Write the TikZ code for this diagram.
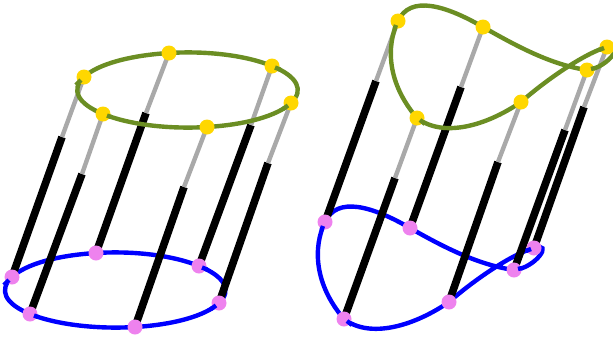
\documentclass[tikz,border=0pt]{standalone}
\usetikzlibrary{calc}
\pgfdeclarelayer{lblue}
\pgfdeclarelayer{lbars}
\pgfdeclarelayer{lgreen}
\pgfdeclarelayer{ltop}
\pgfsetlayers{lblue,lbars,lgreen,main,ltop}
\definecolor{olivec}{HTML}{6B8E23}
\definecolor{goldc}{HTML}{FFD700}
\definecolor{violetc}{HTML}{EE82EE}
\definecolor{grayc}{HTML}{A9A9A9}
\tikzset{
  golddot/.style={circle,fill=goldc,inner sep=0pt,minimum size=15pt},
  violetdot/.style={circle,fill=violetc,inner sep=0pt,minimum size=15pt},
  greencurve/.style={draw=olivec,line width=4.4pt},
  bluecurve/.style={draw=blue,line width=4.4pt},
  greybar/.style={draw=grayc,line width=4.4pt},
  blackbar/.style={draw=black,line width=7.6pt}
}
\newcommand{\ringpath}[6]{%
  (#1.center) .. controls +(13.6,-12.8) and +(-39.06,2.36) .. (#2.center)
  .. controls +(39.06,-2.36) and +(-25.5,-10.4) .. (#3.center)
  .. controls +(25.5,10.4) and +(13.6,-12.8) .. (#4.center)
  .. controls +(-13.6,12.8) and +(39.06,-2.36) .. (#5.center)
  .. controls +(-39.06,2.36) and +(25.5,10.4) .. (#6.center)
  .. controls +(-25.5,-10.4) and +(-13.6,12.8) .. (#1.center) -- cycle}
\newcommand{\loopath}[6]{%
  (#1.center) .. controls +(12,-26) and +(-38,-22) .. (#2.center)
  .. controls +(35,20) and +(-35,-5) .. (#4.center)
  .. controls +(22,-2) and +(20,-7) .. (#3.center)
  .. controls +(-22,6) and +(25,-22) .. (#5.center)
  .. controls +(-35,24) and +(26,20) .. (#6.center)
  .. controls +(-30,-35) and +(-12,25) .. (#1.center) -- cycle}
\begin{document}
\begin{tikzpicture}[x=1pt,y=-1pt]
\useasboundingbox (0,0) rectangle (613,338);
% upper dots, left ring
\node[golddot] (tA) at (84,77) {};
\node[golddot] (tB) at (169,53) {};
\node[golddot] (tC) at (272,66) {};
\node[golddot] (tD) at (291,103) {};
\node[golddot] (tE) at (207,127) {};
\node[golddot] (tF) at (103,114) {};
% lower dots, left ring
\node[violetdot] (bA) at (12,277) {};
\node[violetdot] (bB) at (96,253) {};
\node[violetdot] (bC) at (199,266) {};
\node[violetdot] (bD) at (219,303) {};
\node[violetdot] (bE) at (135,327) {};
\node[violetdot] (bF) at (30,314) {};
% upper dots, right loop
\node[golddot] (uA) at (398,21) {};
\node[golddot] (uB) at (483,27) {};
\node[golddot] (uC) at (607,47) {};
\node[golddot] (uD) at (587,70) {};
\node[golddot] (uE) at (521,102) {};
\node[golddot] (uF) at (417,118) {};
% lower dots, right loop
\node[violetdot] (vA) at (325,222) {};
\node[violetdot] (vB) at (410,228) {};
\node[violetdot] (vC) at (534,248) {};
\node[violetdot] (vD) at (514,270) {};
\node[violetdot] (vE) at (449,302) {};
\node[violetdot] (vF) at (344,319) {};
% colour changes along the bars
\coordinate (mtA) at (62,137);
\coordinate (mtB) at (146,113);
\coordinate (mtC) at (251,125);
\coordinate (mtD) at (268,163);
\coordinate (mtE) at (184,187);
\coordinate (mtF) at (82,174);
\coordinate (muA) at (376,81);
\coordinate (muB) at (461,87);
\coordinate (muC) at (584,107);
\coordinate (muD) at (565,130);
\coordinate (muE) at (498,162);
\coordinate (muF) at (395,178);
\begin{pgfonlayer}{lblue}
  \draw[bluecurve] \ringpath{bA}{bB}{bC}{bD}{bE}{bF};
  \draw[bluecurve] \loopath{vA}{vB}{vC}{vD}{vE}{vF};
\end{pgfonlayer}
\begin{pgfonlayer}{lbars}
  \foreach \n in {A,B,C,D,E,F}{
    \draw[blackbar] (b\n.center) -- (mt\n);
    \draw[greybar] (t\n.center) -- (mt\n);
    \draw[blackbar] (v\n.center) -- (mu\n);
    \draw[greybar] (u\n.center) -- (mu\n);
  }
\end{pgfonlayer}
\begin{pgfonlayer}{lgreen}
  \draw[greencurve] \ringpath{tA}{tB}{tC}{tD}{tE}{tF};
  \draw[greencurve] \loopath{uA}{uB}{uC}{uD}{uE}{uF};
\end{pgfonlayer}
\begin{pgfonlayer}{ltop}
  \foreach \p/\c in {t/olivec,b/blue}{
    \draw[line width=4.4pt,draw=\c] ($(\p A)+(-3,3)$) -- ($(\p A)+(-8,8)$);
    \draw[line width=4.4pt,draw=\c] ($(\p C)+(3,1.5)$) -- ($(\p C)+(8,3.5)$);
    \draw[line width=4.4pt,draw=\c] ($(\p D)+(-3,2.5)$) -- ($(\p D)+(-8,6)$);
    \draw[line width=4.4pt,draw=\c] ($(\p F)+(4,1.5)$) -- ($(\p F)+(8,3)$);
  }
  \foreach \p/\c in {u/olivec,v/blue}{
    \draw[line width=4.4pt,draw=\c] ($(\p A)+(-2,4)$) -- ($(\p A)+(-3.5,8)$);
    \draw[line width=4.4pt,draw=\c] ($(\p C)+(-3,1)$) -- ($(\p C)+(-8,3)$);
    \draw[line width=4.4pt,draw=\c] ($(\p D)+(4,-1)$) -- ($(\p D)+(8,-2)$);
    \draw[line width=4.4pt,draw=\c] ($(\p F)+(3,2)$) -- ($(\p F)+(8,6)$);
  }
\end{pgfonlayer}
\end{tikzpicture}
\end{document}
